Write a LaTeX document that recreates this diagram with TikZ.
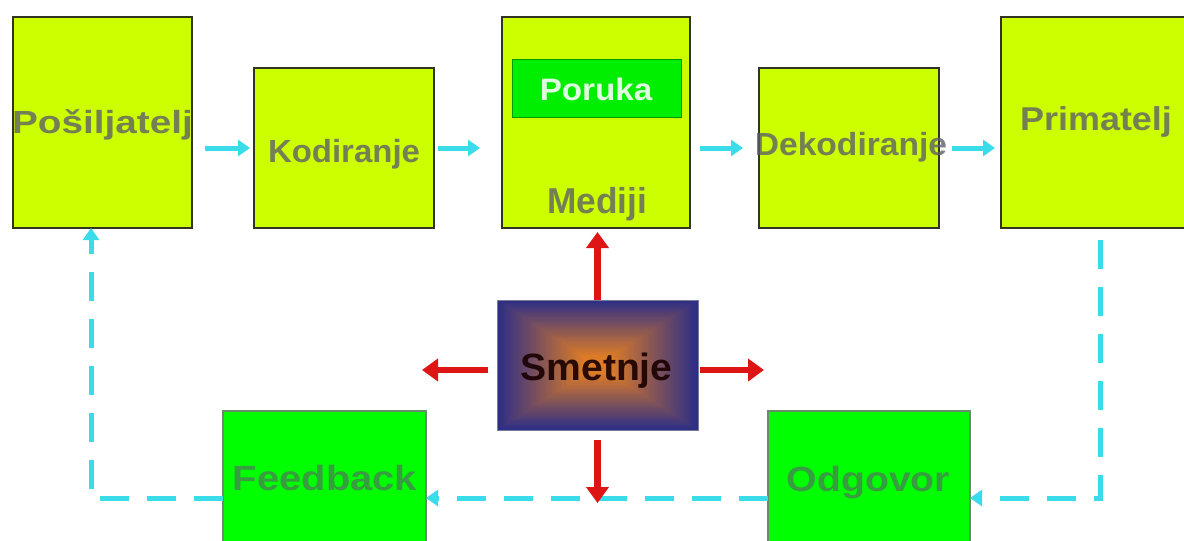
\documentclass[tikz,border=0pt]{standalone}
\usepackage{fontspec}
\setmainfont{Liberation Sans}
\usepackage{graphicx}
\usetikzlibrary{arrows.meta,calc}
\definecolor{boxlime}{HTML}{CCFF00}
\definecolor{boxgreen}{HTML}{00FF00}
\definecolor{porgreen}{HTML}{00EE00}
\definecolor{boxedge}{HTML}{333322}
\definecolor{greenedge}{HTML}{6A8A6A}
\definecolor{lblgray}{HTML}{5C5C6C}
\definecolor{arrcyan}{HTML}{3ADCEA}
\definecolor{arrred}{HTML}{DD1515}
\definecolor{smnavy}{HTML}{2D2E86}
\definecolor{smorange}{HTML}{DE7C26}
\definecolor{smedge}{HTML}{7A7A99}
\begin{document}
\begin{tikzpicture}[x=1pt,y=-1pt,
  limebox/.style={draw=boxedge, line width=1.8pt, fill=boxlime, inner sep=0pt, outer sep=0pt},
  greenbox/.style={draw=greenedge, line width=1.2pt, fill=boxgreen, inner sep=0pt, outer sep=0pt},
  lbl/.style={text=lblgray, text opacity=0.78, font=\bfseries, inner sep=0pt, anchor=base},
  cyarrow/.style={draw=arrcyan, line width=5pt, -{Triangle[length=12pt,width=16pt]}},
  cydash/.style={cyarrow, dash pattern=on 29pt off 18pt},
  redarrow/.style={draw=arrred, line width=6.5pt, -{Triangle[length=16pt,width=22pt]}}]
\useasboundingbox (0,0) rectangle (1184,541);
\clip (0,0) rectangle (1184,541);
\fill[white] (0,0) rectangle (1184,541);

% boxes
\node[limebox, minimum width=179pt, minimum height=211pt] (pos) at (102.5,122.5) {};
\node[limebox, minimum width=180pt, minimum height=160pt] (kod) at (344,148) {};
\node[limebox, minimum width=188pt, minimum height=211pt] (med) at (596,122.5) {};
\node[draw=green!60!black, line width=0.8pt, fill=porgreen, inner sep=0pt,
      minimum width=169pt, minimum height=58pt] (por) at (596.5,88) {};
\node[limebox, minimum width=180pt, minimum height=160pt] (dek) at (849,148) {};
\node[limebox, minimum width=200pt, minimum height=211pt] (pri) at (1101,122.5) {};
\node[greenbox, minimum width=203pt, minimum height=140pt] (fb) at (324.5,481) {};
\node[greenbox, minimum width=202pt, minimum height=140pt] (odg) at (869,481) {};

% Smetnje with rectangular gradient
\begin{scope}[shift={(597.5,365)}]
\foreach \i in {0,...,59}{
  \pgfmathsetmacro\w{100.5*(1-\i/60)}
  \pgfmathsetmacro\h{65*(1-\i/60)}
  \pgfmathtruncatemacro\p{min(100,\i*100/52)}
  \fill[smorange!\p!smnavy] (-\w,-\h) rectangle (\w,\h);
}
\end{scope}
\node[draw=smedge, line width=1pt, inner sep=0pt, outer sep=0pt,
      minimum width=201pt, minimum height=130pt] (sm) at (597.5,365) {};

% cyan forward arrows
\draw[cyarrow, shorten <=13pt, shorten >=4pt] (pos.east |- kod) -- (kod.west);
\draw[cyarrow, shorten <=4pt, shorten >=22pt] (kod.east) -- (med.west |- kod);
\draw[cyarrow, shorten <=10pt, shorten >=16pt] (med.east |- dek) -- (dek.west);
\draw[cyarrow, shorten <=13pt, shorten >=6pt] (dek.east) -- (pri.west |- dek);

% feedback loop
\coordinate (c1) at (1100,498);
\coordinate (c2) at (91,498);
\draw[cydash, shorten <=12pt] (c1 |- pri.south) -- (c1) -- (odg.east |- c1);
\draw[cydash] (odg.west |- c1) -- (fb.east |- c1);
\draw[cydash] (fb.west |- c1) -- (c2) -- (c2 |- pos.south);

% red arrows
\coordinate (rl) at (422,370);
\coordinate (rr) at (764,370);
\coordinate (rd) at (597.5,503);
\draw[redarrow, shorten >=4pt] (sm.north) -- (sm.north |- med.south);
\draw[redarrow, shorten <=9pt] (sm.west |- rl) -- (rl);
\draw[redarrow, shorten <=2pt] (sm.east |- rr) -- (rr);
\draw[redarrow, shorten <=10pt] (sm.south) -- (rd);

% labels
\node[lbl] (tpos) at (102.5,133) {\fontsize{32}{36}\selectfont\scalebox{1.21}[1]{Pošiljatelj}};
\node[lbl] (tkod) at (344,162) {\fontsize{32}{36}\selectfont\scalebox{1.03}[1]{Kodiranje}};
\node[lbl, text=white, text opacity=0.88] (tpor) at (596,100) {\fontsize{31}{35}\selectfont\scalebox{1.07}[1]{Poruka}};
\node[lbl] (tmed) at (597,213) {\fontsize{36}{40}\selectfont\scalebox{0.98}[1]{Mediji}};
\node[lbl] (tdek) at (851,155) {\fontsize{32}{36}\selectfont\scalebox{1.05}[1]{Dekodiranje}};
\node[lbl] (tpri) at (1096,130) {\fontsize{33}{37}\selectfont\scalebox{1.09}[1]{Primatelj}};
\node[lbl, text=black!90!red, text opacity=0.9] (tsm) at (596.5,380) {\fontsize{38}{42}\selectfont\scalebox{1.03}[1]{Smetnje}};
\node[lbl, text opacity=0.6] (tfb) at (325,490) {\fontsize{35}{40}\selectfont\scalebox{1.14}[1]{Feedback}};
\node[lbl, text opacity=0.6] (todg) at (868.5,491) {\fontsize{35}{40}\selectfont\scalebox{1.12}[1]{Odgovor}};
\end{tikzpicture}
\end{document}
